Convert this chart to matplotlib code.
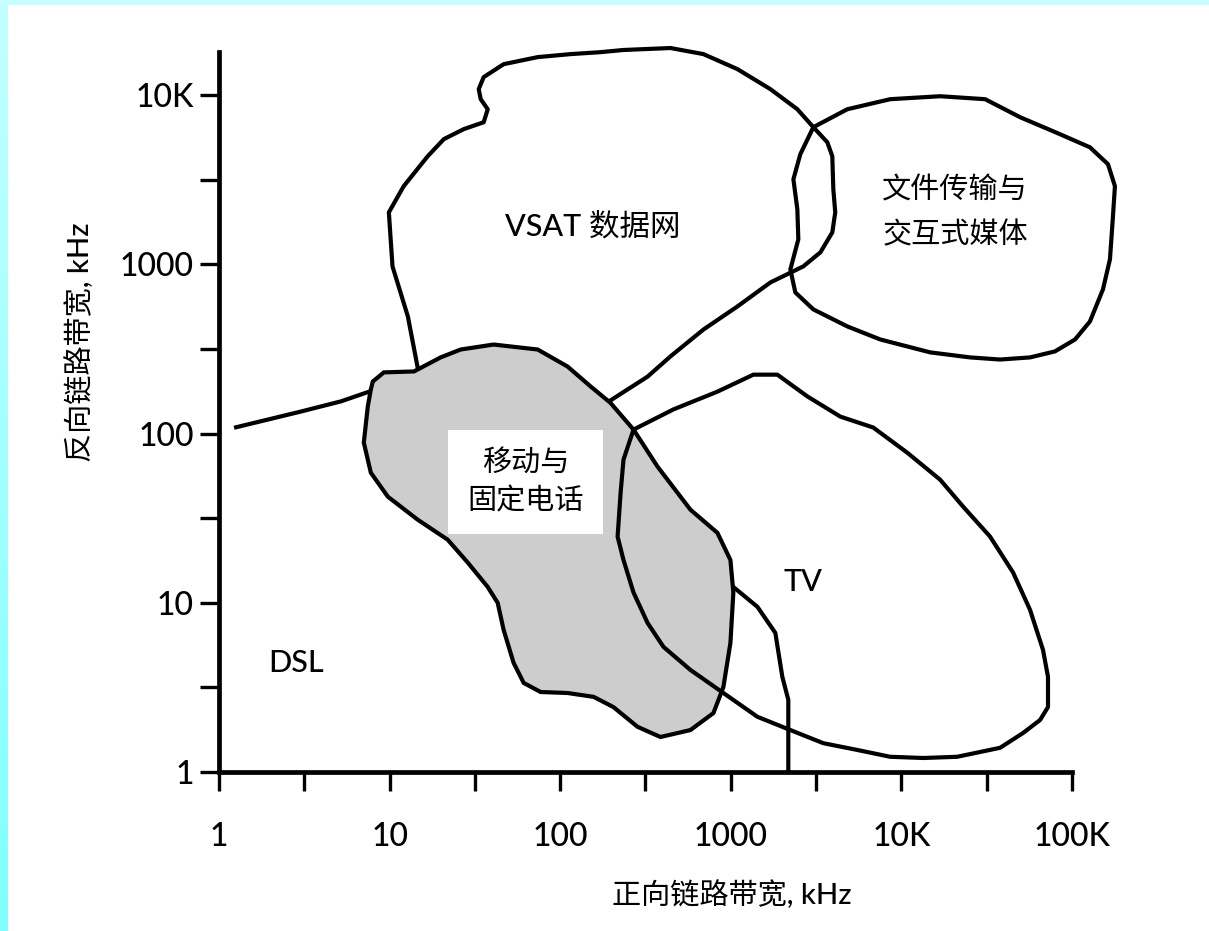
import numpy as np
import matplotlib
matplotlib.use("Agg")
import matplotlib.pyplot as plt
from matplotlib.patches import Rectangle
from matplotlib.ticker import NullFormatter

plt.rcParams['font.family'] = ['Lato', 'Noto Sans CJK SC', 'DejaVu Sans']
plt.rcParams['font.weight'] = 'medium'

# 1. Eixos (escala log, kHz)
x_ticks = [1, 10, 100, 1000, 10000, 100000]
x_tick_labels = ['1', '10', '100', '1000', '10K', '100K']
x_minor = [3.16, 31.6, 316, 3160, 31600]
y_ticks = [1, 10, 100, 1000, 10000]
y_tick_labels = ['1', '10', '100', '1000', '10K']
y_minor = [3.16, 31.6, 316, 3160]

# 2. Contornos das regioes (forward kHz, reverse kHz)
vsat_x = [15.2, 14.6, 12.8, 10.4, 9.9, 12.1, 16.7, 20.8, 27.2, 35.6, 37.6, 34.2, 33.3, 35.6,
          46.6, 73.8, 115, 172, 235, 443, 691, 1093, 1706, 2455, 3047, 3680, 3935, 3990,
          4095, 3935, 3350, 2660, 1706, 1093, 691, 443, 325, 197, 161]
vsat_y = [195, 246, 492, 973, 2030, 2900, 4350, 5500, 6300, 6920, 8260, 9470, 10860, 12790,
          15250, 16790, 17490, 17960, 18500, 19000, 17490, 14260, 10860, 8260, 6470, 5270, 4355, 2780,
          2030, 1546, 1178, 973, 782, 564, 412, 286, 217, 157, 139]

dsl_x = [1.26, 3.02, 5.18, 7.97, 9.5]
dsl_y = [109, 135, 155, 180, 187]

file_x = [3047, 4820, 8600, 16870, 30970, 49650, 85100, 127400, 162500, 178500, 173800,
          166900, 151800, 127400, 104200, 79430, 56750, 37870, 25290, 14750, 7520, 4820,
          3047, 2389, 2234, 2488, 2455, 2328, 2555]
file_y = [6470, 8260, 9470, 9860, 9470, 7410, 5880, 4920, 3910, 2900, 1923,
          1071, 711, 460, 360, 306, 282, 274, 282, 302, 360, 430,
          542, 683, 934, 1406, 2115, 3184, 4477]

mobile_x = [7.97, 9.25, 13.9, 19.9, 26.1, 40.7, 73.8, 110.5, 150.7, 197, 269, 372, 580, 835,
            995, 1035, 995, 905, 791, 580, 387, 284, 205, 157, 110.5, 76.8, 61.1, 53.3, 46.6,
            43.0, 37.6, 28.7, 21.9, 14.6, 9.76, 7.76, 7.06, 7.45, 7.76]
mobile_y = [203, 230, 233, 282, 314, 336, 314, 249, 190, 152, 105.6, 63.8, 35.5, 25.9,
            17.9, 11.5, 5.80, 3.18, 2.23, 1.77, 1.61, 1.85, 2.42, 2.78, 2.93, 2.97, 3.36, 4.42, 6.92,
            10.0, 12.4, 17.3, 23.6, 31.0, 42.4, 58.8, 88.5, 144.5, 182]

tv_x = [269, 461, 835, 1356, 1875, 2808, 4385, 6840, 10810, 16870, 23010, 33110, 45150,
        56750, 67610, 72330, 72330, 65010, 51640, 37870, 21230, 13430, 8600, 5510, 3485,
        2234, 1432, 905, 580, 403, 325, 269, 235, 217, 226, 235]
tv_y = [105.6, 139, 177, 223, 223, 166, 126, 108.6, 77.2, 53.4, 37.0, 24.6, 15.1,
        9.09, 5.27, 3.65, 2.42, 2.03, 1.70, 1.39, 1.23, 1.21, 1.23, 1.35, 1.48,
        1.77, 2.12, 2.93, 4.01, 5.49, 7.61, 11.5, 17.9, 24.6, 44.8, 70.2]

edge_x = [893, 1035, 1432, 1824, 2005, 2173, 2173]
edge_y = [14.1, 12.4, 9.47, 6.64, 3.65, 2.67, 1.03]

W, H = 1209, 931
fig = plt.figure(figsize=(W / 100, H / 100), dpi=100)
fig.patch.set_facecolor('white')

# moldura ciano
strip = fig.add_axes([0, 0, 8 / W, 1])
grad = np.linspace(0.76, 0.5, 200).reshape(-1, 1)
img = np.dstack([grad, np.ones_like(grad), np.ones_like(grad)])
strip.imshow(img, aspect='auto', extent=[0, 1, 0, 1])
strip.axis('off')
fig.patches.append(Rectangle((0, 1 - 5 / H), 1, 5 / H, transform=fig.transFigure,
                             facecolor=(0.78, 1, 1), edgecolor='none'))

ax = fig.add_axes([219 / W, (H - 772) / H, (1072 - 219) / W, (772 - 52) / H])
ax.set_xscale('log')
ax.set_yscale('log')
ax.set_xlim(1, 100000)
ax.set_ylim(1, 18000)

lw = 3.0
ax.plot(vsat_x, vsat_y, color='black', lw=lw, clip_on=False, zorder=1)
ax.plot(dsl_x, dsl_y, color='black', lw=lw, clip_on=False, zorder=1)
ax.plot(edge_x, edge_y, color='black', lw=lw, clip_on=False, zorder=1)
ax.fill(mobile_x, mobile_y, facecolor='#cdcdcd', edgecolor='black', lw=lw,
        clip_on=False, zorder=2)
ax.plot(tv_x + tv_x[:1], tv_y + tv_y[:1], color='black', lw=lw, clip_on=False, zorder=3)
ax.plot(file_x + file_x[:1], file_y + file_y[:1], color='black', lw=lw, clip_on=False, zorder=3)

# rotulos das regioes
ax.text(155, 1680, 'VSAT 数据网', fontsize=22, ha='center', va='center', zorder=5)
ax.text(20650, 2030, '文件传输与\n交互式媒体', fontsize=21, ha='center', va='center',
        linespacing=1.8, zorder=5)
ax.text(62.7, 52, '移动与\n固定电话', fontsize=21, ha='center', va='center', linespacing=1.55,
        bbox=dict(boxstyle='square,pad=0.65', facecolor='white', edgecolor='none'), zorder=5)
ax.text(2660, 13.3, 'TV', fontsize=22, ha='center', va='center', zorder=5)
ax.text(2.82, 4.42, 'DSL', fontsize=22, ha='center', va='center', zorder=5)

# ticks e spines
ax.set_xticks(x_ticks, labels=x_tick_labels)
ax.set_yticks(y_ticks, labels=y_tick_labels)
ax.set_xticks(x_minor, minor=True)
ax.set_yticks(y_minor, minor=True)
ax.xaxis.set_minor_formatter(NullFormatter())
ax.yaxis.set_minor_formatter(NullFormatter())
ax.tick_params(which='both', direction='out', length=14, width=2.4, labelsize=23)
ax.tick_params(axis='x', which='both', pad=22)
ax.tick_params(axis='y', which='both', pad=4)
for s in ['top', 'right']:
    ax.spines[s].set_visible(False)
for s in ['left', 'bottom']:
    ax.spines[s].set_linewidth(3.4)
ax.set_facecolor('none')

fig.text(732 / W, 1 - 895 / H, '正向链路带宽, kHz', fontsize=21, ha='center', va='center')
fig.text(80 / W, 1 - 342 / H, '反向链路带宽, kHz', fontsize=21, ha='center', va='center',
         rotation=90)

plt.savefig('out.png', dpi=100)
